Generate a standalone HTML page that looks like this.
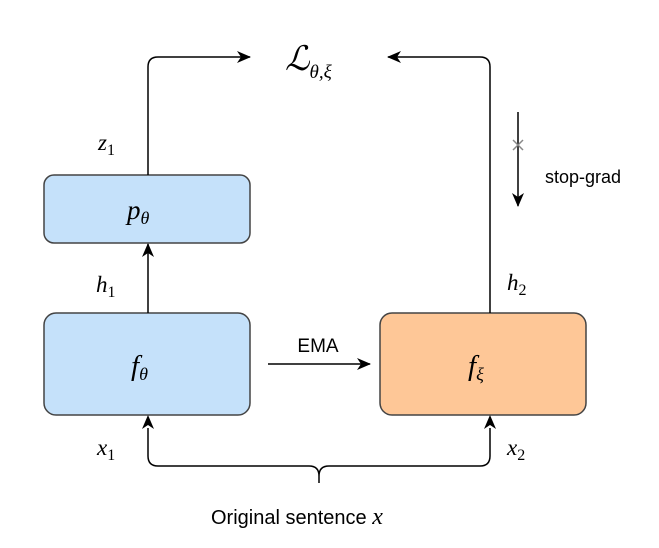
<!DOCTYPE html>
<html><head><meta charset="utf-8"><style>
html,body{margin:0;padding:0;background:#fff;}
svg{display:block;}
.m{font-family:"Liberation Serif",serif;font-style:italic;}
.s{font-family:"Liberation Sans",sans-serif;}
</style></head><body>
<svg width="659" height="548" viewBox="0 0 659 548" xmlns="http://www.w3.org/2000/svg">
<defs>
<marker id="a" markerWidth="14" markerHeight="12" refX="13" refY="6" orient="auto" markerUnits="userSpaceOnUse">
<path d="M0,0 L14,6 L0,12 L4,6 Z" fill="#000"/>
</marker>
</defs>
<rect x="44" y="175" width="206" height="68" rx="10" fill="#c5e1fa" stroke="#444" stroke-width="1.5"/>
<rect x="44" y="313" width="206" height="102" rx="12" fill="#c5e1fa" stroke="#444" stroke-width="1.5"/>
<rect x="380" y="313" width="206" height="102" rx="12" fill="#fec797" stroke="#444" stroke-width="1.5"/>
<path d="M148,175 V67 Q148,57 158,57 H250" fill="none" stroke="#000" stroke-width="1.5" marker-end="url(#a)"/>
<path d="M490,313 V67 Q490,57 480,57 H388" fill="none" stroke="#000" stroke-width="1.5" marker-end="url(#a)"/>
<path d="M148,313 V244" fill="none" stroke="#000" stroke-width="1.5" marker-end="url(#a)"/>
<path d="M268,364 H370" fill="none" stroke="#000" stroke-width="1.5" marker-end="url(#a)"/>
<path d="M518,112 V206" fill="none" stroke="#000" stroke-width="1.5" marker-end="url(#a)"/>
<path d="M513,140 L523,150 M523,140 L513,150" stroke="#888" stroke-width="1.5"/>
<path d="M148,428 V456 Q148,466 158,466 H309 Q319,466 319,476 V483 M319,476 Q319,466 329,466 H480 Q490,466 490,456 V428" fill="none" stroke="#000" stroke-width="1.5"/>
<path d="M148,415 l-6,14 l6,-4 l6,4 Z" fill="#000"/>
<path d="M490,415 l-6,14 l6,-4 l6,4 Z" fill="#000"/>
<text x="285" y="70" class="m" font-size="34">ℒ<tspan font-size="19" dy="8">θ,ξ</tspan></text>
<text x="98" y="150" class="m" font-size="23">z<tspan font-style="normal" font-size="16" dy="5">1</tspan></text>
<text x="127" y="219" class="m" font-size="27">p<tspan font-size="18" dy="5">θ</tspan></text>
<text x="96" y="292" class="m" font-size="23">h<tspan font-style="normal" font-size="16" dy="5">1</tspan></text>
<text x="507" y="290" class="m" font-size="23">h<tspan font-style="normal" font-size="16" dy="5">2</tspan></text>
<text x="131" y="375" class="m" font-size="29">f<tspan font-size="18" dy="5">θ</tspan></text>
<text x="468" y="375" class="m" font-size="29">f<tspan font-size="18" dy="5">ξ</tspan></text>
<text x="318" y="352" class="s" font-size="19" text-anchor="middle">EMA</text>
<text x="545" y="183" class="s" font-size="18">stop-grad</text>
<text x="97" y="455" class="m" font-size="23">x<tspan font-style="normal" font-size="16" dy="5">1</tspan></text>
<text x="507" y="455" class="m" font-size="23">x<tspan font-style="normal" font-size="16" dy="5">2</tspan></text>
<text x="211" y="524" class="s" font-size="20">Original sentence <tspan class="m" font-size="24">x</tspan></text>
</svg>
</body></html>
